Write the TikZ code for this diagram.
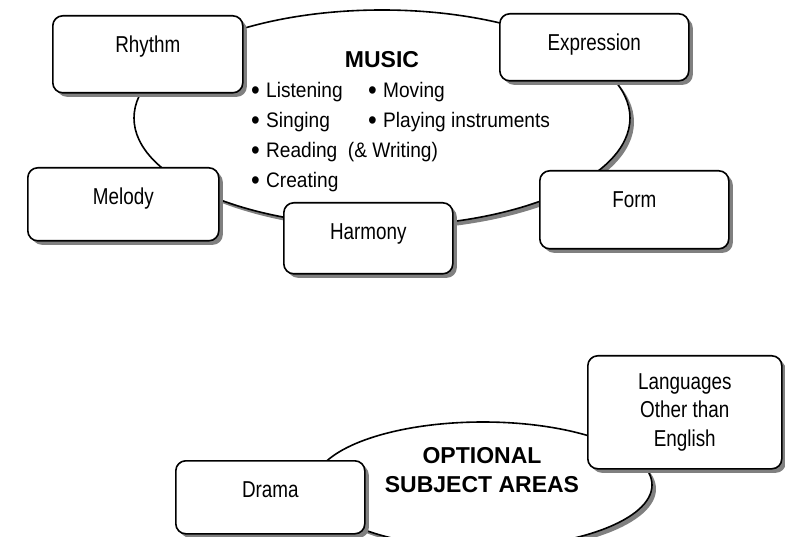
\documentclass[tikz,border=0pt]{standalone}
\usepackage{fontspec}
\setmainfont{Liberation Sans}
\newfontfamily\narrowfont{Liberation Sans}[FakeStretch=0.82]
\newfontfamily\listfont{Liberation Sans}[FakeStretch=0.91]
\usetikzlibrary{shapes.geometric,shadows}
\newcommand{\itm}[1]{\raisebox{-0.1em}{\scalebox{1.3}{\textbullet}}\hspace{0.3em}#1}

\begin{document}
\begin{tikzpicture}[x=1pt,y=-1pt,
  boxshadow/.style={drop shadow={shadow xshift=4pt,shadow yshift=-4pt,fill=gray,opacity=1}},
  areabubble/.style={ellipse,draw,line width=1.6pt,fill=white,boxshadow,inner sep=0pt},
  topicbox/.style={rectangle,draw,line width=1.6pt,rounded corners=10pt,fill=white,boxshadow,
    anchor=north west,inner sep=0pt,align=center,font=\narrowfont\fontsize{23}{28.5}\selectfont},
  topic/.style={topicbox,text height=37pt,text depth=#1},
  title/.style={align=center,inner sep=0pt,font=\bfseries\fontsize{23}{29}\selectfont}]
\useasboundingbox (0,0) rectangle (785,537);
% music bubble
\node[areabubble,minimum width=496pt,minimum height=216pt] (music) at (382,118) {};
\node[title,anchor=base] (musictitle) at (382,68) {MUSIC};
\node[anchor=north west,align=left,inner sep=0pt,font=\listfont\fontsize{21}{30}\selectfont] (musiclist) at (251,82)
  {\makebox[117pt][l]{\itm{Listening}}\itm{Moving}\\
   \makebox[117pt][l]{\itm{Singing}}\itm{Playing instruments}\\
   \itm{Reading\ \ (\& Writing)}\\
   \itm{Creating}};
\node[topic=40pt,minimum width=190pt] (rhythm) at (52,15) {Rhythm};
\node[topic=30pt,minimum width=189pt] (expression) at (499,13) {Expression};
\node[topic=36pt,minimum width=191pt] (melody) at (27,167) {Melody};
\node[topic=41pt,minimum width=189pt] (form) at (539,170) {Form};
\node[topic=34pt,minimum width=169pt] (harmony) at (283,202) {Harmony};
% optional bubble
\node[areabubble,minimum width=338pt,minimum height=126pt] (optional) at (483,485) {};
\node[title] (optionaltitle) at (482,470) {OPTIONAL\\SUBJECT AREAS};
\node[topicbox,minimum width=194pt,minimum height=113pt] (languages) at (587,355) {Languages\\Other than\\English};
\node[topic=36pt,minimum width=189pt] (drama) at (175,460) {Drama};
\end{tikzpicture}
\end{document}
